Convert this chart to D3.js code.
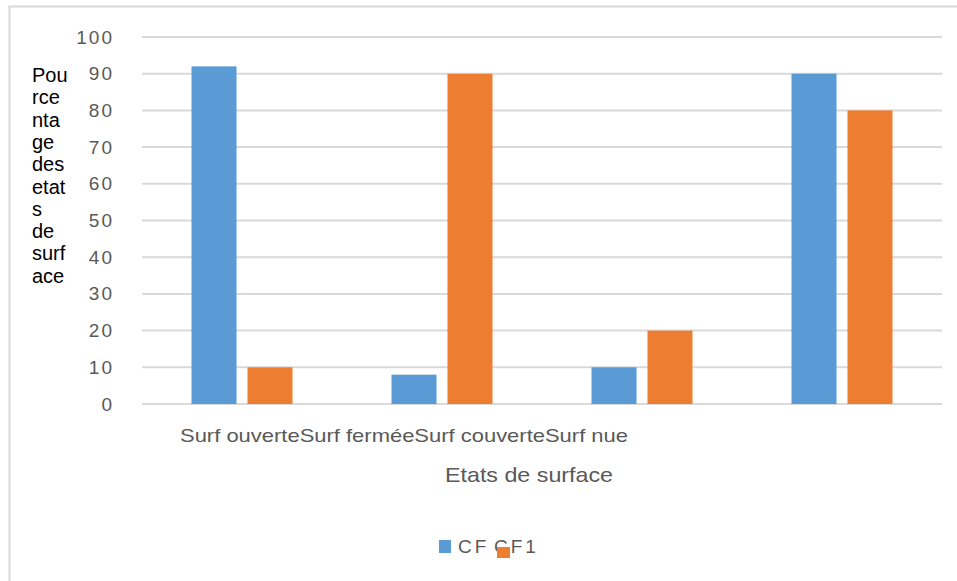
<!DOCTYPE html>
<html>
<head>
<meta charset="utf-8">
<script src="https://cdn.jsdelivr.net/npm/d3@7"></script>
<style>
  body { margin: 0; background: #fff; }
  svg { display: block; font-family: "Liberation Sans", Arial, sans-serif; }
</style>
</head>
<body>
<svg id="chart" width="957" height="581"></svg>
<script>
// chart data
const categories = ["Surf ouverte", "Surf fermée", "Surf couverte", "Surf nue"];
const series = ["CF", "CF1"];
const cfValues = [92, 8, 10, 90];
const cf1Values = [10, 90, 20, 80];
const yTicks = [0, 10, 20, 30, 40, 50, 60, 70, 80, 90, 100];
const yTitleLines = ["Pou", "rce", "nta", "ge", "des", "etat", "s", "de", "surf", "ace"];
const xTitle = "Etats de surface";

const colors = { CF: "#5B9BD5", CF1: "#ED7D31" };

const svg = d3.select("#chart");

// outer chart frame
svg.append("rect")
	.attr("x", 9.5).attr("y", 6.5)
	.attr("width", 980).attr("height", 600)
	.attr("fill", "#fff")
	.attr("stroke", "#D9D9D9")
	.attr("stroke-width", 2);

const plot = { left: 142, right: 942, top: 37, bottom: 404 };

const x0 = d3.scaleBand()
	.domain(d3.range(categories.length))
	.range([plot.left, plot.right])
	.padding(0);

const groupWidth = 101;
const x1 = d3.scaleBand()
	.domain(series)
	.range([0, groupWidth])
	.paddingInner(0.196);

const y = d3.scaleLinear()
	.domain([0, 100])
	.range([plot.bottom, plot.top]);

// gridlines
svg.append("g")
	.selectAll("line")
	.data(yTicks)
	.join("line")
	.attr("x1", plot.left).attr("x2", plot.right)
	.attr("y1", d => y(d)).attr("y2", d => y(d))
	.attr("stroke", "#D9D9D9")
	.attr("stroke-width", 2);

// bars
const rows = categories.map((c, i) => ({ i, CF: cfValues[i], CF1: cf1Values[i] }));
const groups = svg.append("g")
	.selectAll("g")
	.data(rows)
	.join("g")
	.attr("transform", d => `translate(${x0(d.i) + (x0.bandwidth() - groupWidth) / 2},0)`);

groups.selectAll("rect")
	.data(d => series.map(s => ({ s, v: d[s] })))
	.join("rect")
	.attr("x", d => x1(d.s))
	.attr("y", d => y(d.v))
	.attr("width", x1.bandwidth())
	.attr("height", d => y(0) - y(d.v))
	.attr("fill", d => colors[d.s]);

// y axis labels
const yAxis = d3.axisLeft(y).tickValues(yTicks).tickSize(0).tickPadding(28);
const yAxisG = svg.append("g")
	.attr("transform", `translate(${plot.left},0)`)
	.call(yAxis);
yAxisG.select(".domain").remove();
yAxisG.selectAll("text")
	.attr("fill", "#595959")
	.style("font-size", "19px")
	.style("letter-spacing", "2px")
	.style("font-family", "'Liberation Sans', Arial, sans-serif");

// category labels (crammed together, as in the original)
svg.append("text")
	.attr("x", 180)
	.attr("y", 442)
	.attr("fill", "#595959")
	.style("font-size", "19px")
	.attr("textLength", 448)
	.attr("lengthAdjust", "spacingAndGlyphs")
	.text(categories.join(""));

// x axis title
svg.append("text")
	.attr("x", 445)
	.attr("y", 482)
	.attr("fill", "#595959")
	.style("font-size", "21px")
	.attr("textLength", 168)
	.attr("lengthAdjust", "spacingAndGlyphs")
	.text(xTitle);

// y axis title, wrapped
svg.append("text")
	.attr("fill", "#000")
	.style("font-size", "20px")
	.selectAll("tspan")
	.data(yTitleLines)
	.join("tspan")
	.attr("x", 32)
	.attr("y", (d, i) => 82 + i * 22.3)
	.text(d => d);

// legend
const legend = svg.append("g");
legend.append("rect")
	.attr("x", 439).attr("y", 540)
	.attr("width", 12).attr("height", 13)
	.attr("fill", colors.CF);
legend.append("text")
	.attr("x", 458).attr("y", 553)
	.attr("fill", "#595959")
	.style("font-size", "19px")
	.style("letter-spacing", "3px")
	.text(series[0]);
legend.append("text")
	.attr("x", 494).attr("y", 553)
	.attr("fill", "#595959")
	.style("font-size", "19px")
	.style("letter-spacing", "3px")
	.text(series[1]);
legend.append("rect")
	.attr("x", 497).attr("y", 547)
	.attr("width", 13).attr("height", 11)
	.attr("fill", colors.CF1);
</script>
</body>
</html>
